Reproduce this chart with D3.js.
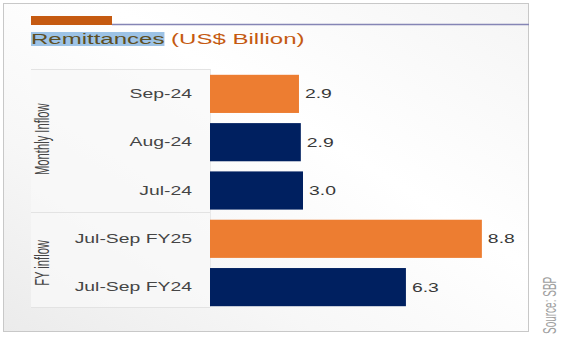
<!DOCTYPE html>
<html><head><meta charset="utf-8">
<script src="https://cdn.jsdelivr.net/npm/d3@7"></script>
<style>body{margin:0;background:#fff}svg{display:block}</style>
</head><body>
<svg id="c" width="567" height="343"></svg>
<script>
const categories = ["Sep-24","Aug-24","Jul-24","Jul-Sep FY25","Jul-Sep FY24"];
const values = [2.87, 2.93, 3.0, 8.77, 6.32];
const colorsKey = ["hl","base","base","hl","base"];
const groups = [{name:"Monthly Inflow", items:["Sep-24","Aug-24","Jul-24"], shift:-3},{name:"FY inflow", items:["Jul-Sep FY25","Jul-Sep FY24"], shift:0}];
const titleMain = "Remittances", titleUnit = " (US$ Billion)", source = "Source: SBP";

const FONT = "Liberation Sans, Arial, sans-serif";
const SX = 1.55; // horizontal stretch seen in the reference
const svg = d3.select("#c");
const defs = svg.append("defs");
const g1 = defs.append("linearGradient").attr("id","bg").attr("x1","0").attr("y1","1").attr("x2","1").attr("y2","0");
g1.append("stop").attr("offset","0").attr("stop-color","#ebebeb");
g1.append("stop").attr("offset","0.3").attr("stop-color","#f7f7f7");
g1.append("stop").attr("offset","0.6").attr("stop-color","#ffffff");
g1.append("stop").attr("offset","1").attr("stop-color","#f5f5f5");

// outer frame
svg.append("rect").attr("x",3.5).attr("y",3.5).attr("width",525).attr("height",328)
  .attr("fill","url(#bg)").attr("stroke","#c8c8c8");

// header bar
svg.append("line").attr("x1",112).attr("x2",529).attr("y1",24.5).attr("y2",24.5).attr("stroke","#8585b5").attr("stroke-width",1.3);
svg.append("rect").attr("x",31).attr("y",16).attr("width",81).attr("height",9).attr("fill","#c55a11");

// title
const titleG = svg.append("g").attr("transform",`translate(31,44) scale(1.55,1)`);
const hl = titleG.append("rect").attr("fill","#9dc3e6");
const tt = titleG.append("text").attr("x",0).attr("y",0).attr("font-family",FONT).attr("font-size",15.5);
const t1 = tt.append("tspan").attr("fill","#5e4e22").text(titleMain);
tt.append("tspan").attr("fill","#c55a11").text(titleUnit);
const bb = t1.node().getBBox();
hl.attr("x",0).attr("y",-12).attr("width",bb.width).attr("height",14);

// scales
const x = d3.scaleLinear().domain([0,10]).range([210,520]);
const y = d3.scaleBand().domain(categories).range([69,312]).paddingInner(0.21).paddingOuter(0.12);

// category panel
svg.append("rect").attr("x",31).attr("y",69).attr("width",179).attr("height",238).attr("fill","#f8f8f8").attr("opacity",0.75);
[69,212,307].forEach(v=>svg.append("line").attr("x1",31).attr("x2",210).attr("y1",v+0.5).attr("y2",v+0.5).attr("stroke","#e3e3e3"));
svg.append("line").attr("x1",210.5).attr("x2",210.5).attr("y1",69).attr("y2",307).attr("stroke","#e8e8e8");

const colorMap = {hl:"#ed7d31", base:"#002060"};
svg.selectAll(".bar").data(categories).enter().append("rect")
  .attr("x",x(0)).attr("y",d=>y(d)).attr("height",y.bandwidth())
  .attr("width",(d,i)=>x(values[i])-x(0)).attr("fill",(d,i)=>colorMap[colorsKey[i]]);

svg.selectAll(".val").data(categories).enter().append("text")
  .attr("transform",(d,i)=>`translate(${x(values[i])+6},${y(d)+y.bandwidth()/2}) scale(${SX},1)`)
  .attr("dy","0.35em")
  .attr("font-family",FONT).attr("font-size",12.5).attr("fill","#383838")
  .text((d,i)=>d3.format(".1f")(values[i]));

const yAxis = d3.axisLeft(y).tickSize(0).tickPadding(0);
const ag = svg.append("g").attr("transform","translate(192,0)").call(yAxis);
ag.select(".domain").remove();
ag.selectAll("text").attr("transform",`scale(${SX},1)`)
  .attr("font-family",FONT).attr("font-size",12.5).attr("fill","#454545");

groups.forEach(gr=>{
  const top = y(gr.items[0]), bot = y(gr.items[gr.items.length-1])+y.bandwidth();
  const cy = (top+bot)/2 + gr.shift;
  svg.append("text").attr("transform",`translate(49,${cy}) scale(1.5,0.8) rotate(-90)`).attr("text-anchor","middle")
    .attr("font-family",FONT).attr("font-size",14).attr("fill","#454545").text(gr.name);
});

svg.append("text").attr("transform","translate(556,334) scale(1.4,0.8) rotate(-90)").attr("text-anchor","start")
  .attr("font-family",FONT).attr("font-size",12.5).attr("fill","#a0a0a0").text(source);
</script>
</body></html>
